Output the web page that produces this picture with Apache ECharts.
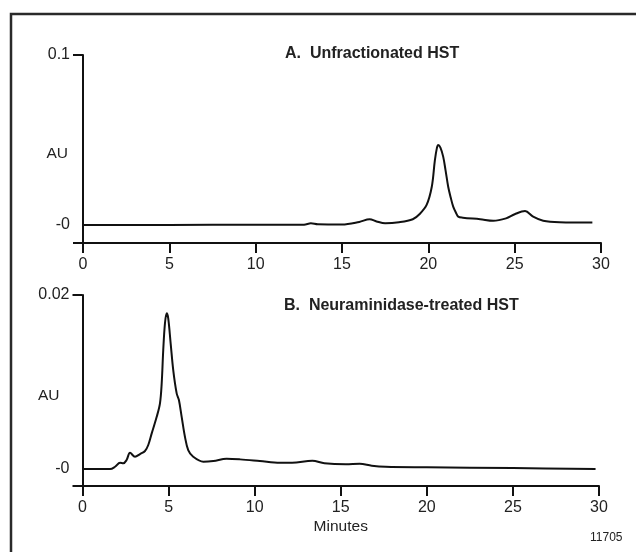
<!DOCTYPE html>
<html>
<head>
<meta charset="utf-8">
<script src="https://cdn.jsdelivr.net/npm/echarts@6/dist/echarts.min.js"></script>
<style>
html,body{margin:0;padding:0;background:#fff;}
#c{width:636px;height:552px;}
</style>
</head>
<body>
<div id="c"></div>
<script>
// ---- data ----
const xTicks = [0, 5, 10, 15, 20, 25, 30];

const titleA = 'A.  Unfractionated HST';
const titleB = 'B.  Neuraminidase-treated HST';

// Panel A: minutes / AU
const timeA = [0, 5, 10, 12.8, 13.2, 13.6, 15, 16.0, 16.6, 17.0, 17.5, 18.3, 19.1, 19.5, 19.9, 20.2, 20.38, 20.5, 20.57, 20.7, 20.86, 21.0, 21.15, 21.3, 21.44, 21.6, 21.73, 22.0, 23.0, 23.76, 24.5, 25.0, 25.6, 26.07, 26.65, 27.6, 29.5];
const auA   = [0, 0.00005, 0.0001, 0.0002, 0.0010, 0.0004, 0.0003, 0.0018, 0.0034, 0.0021, 0.0010, 0.0016, 0.0034, 0.0065, 0.0118, 0.0225, 0.0382, 0.0455, 0.0471, 0.0455, 0.0402, 0.0320, 0.0225, 0.0160, 0.0108, 0.0072, 0.0049, 0.0043, 0.0034, 0.0025, 0.0039, 0.0063, 0.0082, 0.0049, 0.0025, 0.0016, 0.0014];

// Panel B: minutes / AU
const timeB = [0, 1.6, 1.89, 2.18, 2.37, 2.56, 2.76, 3.05, 3.34, 3.63, 3.82, 4.02, 4.31, 4.5, 4.6, 4.69, 4.79, 4.89, 4.98, 5.12, 5.27, 5.47, 5.6, 5.76, 5.95, 6.14, 6.43, 7.02, 7.6, 8.37, 9.15, 10.3, 11.47, 12.17, 13.35, 14.05, 15.3, 16.1, 16.8, 17.6, 20, 25, 29.8];
const auB   = [0, 0, 0.00026, 0.00072, 0.00066, 0.00103, 0.00187, 0.00141, 0.00172, 0.00207, 0.00276, 0.0041, 0.0060, 0.00755, 0.00985, 0.01368, 0.01675, 0.0179, 0.01732, 0.01445, 0.01138, 0.0087, 0.00793, 0.0060, 0.00371, 0.00218, 0.00141, 0.00084, 0.00092, 0.00118, 0.00111, 0.00092, 0.00072, 0.00072, 0.00095, 0.00066, 0.00055, 0.00060, 0.00038, 0.00026, 0.0002, 0.00011, 0];

const yMaxA = 0.1, yMinA = -0.0106;
const yMaxB = 0.02, yMinB = -0.00195;
const yLabelsA = [0, 0.1];
const yLabelsB = [0, 0.02];
const figId = '11705';

// ---- chart ----
const FONT = '"Liberation Sans", Arial, sans-serif';
const ink = '#111';
const txt = '#222';

function zip(a, b) { return a.map((v, i) => [v, b[i]]); }

function xAxis(idx, withName) {
  return {
    type: 'value', gridIndex: idx, min: 0, max: 30, interval: 5,
    name: withName ? 'Minutes' : '', nameLocation: 'middle', nameGap: 33,
    nameMoveOverlap: false,
    nameTextStyle: { fontFamily: FONT, fontSize: 15.5, color: txt },
    axisLine: { show: true, onZero: false, lineStyle: { color: ink, width: 2 } },
    axisTick: { show: true, length: 10, lineStyle: { color: ink, width: 2 } },
    axisLabel: { margin: 14, fontFamily: FONT, fontSize: 16, color: txt,
      customValues: xTicks },
    splitLine: { show: false }
  };
}
function yAxis(idx, mn, mx, labels, gap) {
  return {
    type: 'value', gridIndex: idx, min: mn, max: mx,
    name: 'AU', nameLocation: 'middle', nameRotate: 0, nameGap: gap,
    nameMoveOverlap: false,
    nameTextStyle: { fontFamily: FONT, fontSize: 15.5, color: txt, align: 'right',
      verticalAlign: 'top', lineHeight: 10 },
    axisLine: { show: true, onZero: false, lineStyle: { color: ink, width: 2 } },
    axisTick: { show: true, length: 10, customValues: [mn, mx], lineStyle: { color: ink, width: 2 } },
    axisLabel: { margin: 13, fontFamily: FONT, fontSize: 16, color: txt,
      customValues: labels,
      formatter: v => (Math.abs(v) < 1e-9 ? '-0' : String(v)) },
    splitLine: { show: false }
  };
}

const chart = echarts.init(document.getElementById('c'), null, { renderer: 'canvas' });
chart.setOption({
  animation: false,
  backgroundColor: '#fff',
  title: [
    { text: titleA, left: 285, top: 46, padding: 0,
      textStyle: { fontFamily: FONT, fontSize: 16, fontWeight: 'bold', color: txt } },
    { text: titleB, left: 284, top: 298, padding: 0,
      textStyle: { fontFamily: FONT, fontSize: 16, fontWeight: 'bold', color: txt } }
  ],
  grid: [
    { left: 83, top: 55, right: 35, height: 188 },
    { left: 82.5, top: 295, right: 37, height: 191 }
  ],
  xAxis: [xAxis(0, false), xAxis(1, true)],
  yAxis: [yAxis(0, yMinA, yMaxA, yLabelsA, 15), yAxis(1, yMinB, yMaxB, yLabelsB, 23)],
  series: [
    { type: 'line', xAxisIndex: 0, yAxisIndex: 0, data: zip(timeA, auA),
      showSymbol: false, smooth: 0.35, lineStyle: { color: ink, width: 2 } },
    { type: 'line', xAxisIndex: 1, yAxisIndex: 1, data: zip(timeB, auB),
      showSymbol: false, smooth: 0.35, lineStyle: { color: ink, width: 2 } }
  ],
  graphic: [
    { type: 'polyline', silent: true,
      shape: { points: [[11, 552], [11, 14], [636, 14]] },
      style: { stroke: '#2a2a2a', lineWidth: 2.5, fill: null } },
    { type: 'text', left: 590, top: 532,
      style: { text: figId, fontFamily: FONT, fontSize: 12, fill: txt } }
  ]
});
</script>
</body>
</html>
